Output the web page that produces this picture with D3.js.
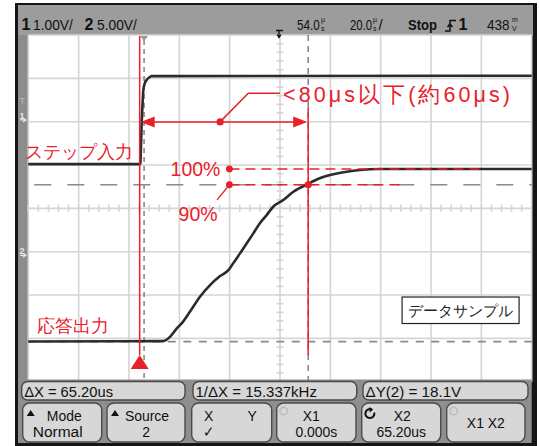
<!DOCTYPE html>
<html>
<head>
<meta charset="utf-8">
<script src="https://cdn.jsdelivr.net/npm/d3@7/dist/d3.min.js"></script>
<style>
  body { margin: 0; background: #fff; }
  svg { display: block; }
  text { font-family: "Liberation Sans", Arial, sans-serif; }
</style>
</head>
<body>
<script>
// ---- Acquisition settings ----
const timePerDiv = 20;          // µs/div
const screenCentre = 54.0;      // µs after trigger
const ch1VoltsPerDiv = 1.0;     // V/div
const ch2VoltsPerDiv = 5.0;     // V/div
const ch1Offset = 2.04;         // ground reference, divisions above centre
const ch2Offset = -1.085;       // ground reference, divisions above centre
const trigLevel = 0.438;        // V on channel 1

// ---- Channel 1: step input (time µs, volts) ----
const stepTime = [-46, -1.5, -1.2, -0.95, -0.6, -0.3, 0.3, 1.0, 2.0, 3.0, 154];
const stepVolt = [-1.02, -1.02, -0.55, -0.07, 0.38, 0.69, 0.85, 0.92, 0.98, 1.01, 1.02];

// ---- Channel 2: response output (time µs, volts) ----
const respTime = [-46, 7.6, 10.3, 13.0, 14.9, 18.2, 22.2, 26.2, 30.2, 33.5, 35.4, 38.1, 40.8,
                  43.4, 46.0, 48.7, 51.3, 55.3, 59.3, 64.8, 69.8, 75.2, 80.5, 85.8, 93.7, 154];
const respVolt = [-9.93, -9.89, -9.40, -8.43, -7.85, -6.51, -4.78, -3.43, -2.39, -1.70, -0.92, 0.23, 1.39,
                  2.54, 3.70, 4.65, 5.61, 6.39, 7.34, 8.20, 8.89, 9.35, 9.65, 9.85, 9.97, 9.97];

// ---- Cursors ----
const cursorX1 = 0.0;           // µs
const cursorX2 = 65.20;         // µs
const cursorY1 = -9.95;         // V (ch2)
const deltaY = 18.1;            // V
const cursorY2 = cursorY1 + deltaY;
const level100 = 9.97;          // V (ch2), settled output

// ---- Readouts ----
const headerLeft = [["1", "1.00V/"], ["2", "5.00V/"]];
const statusTexts = ["ΔX = 65.20us", "1/ΔX = 15.337kHz", "ΔY(2) = 18.1V"];
const softKeys = [["Mode", "Normal"], ["Source", "2"], ["X", "Y", "✓"], ["X1", "0.000s"], ["X2", "65.20us"], ["X1 X2", ""]];

// ---- Annotation anchors (µs on time axis, V on ch2 axis) ----
const markT = -1.75;            // step edge marker
const arrowV = 15.4;
const tipV = -11.5, baseV = -13.1;
const x2LineTopV = 17.1;
const leaderDotT = 30.2, leaderElbow = [41.4, 18.7], leaderEndT = 54.0;
const pctStartT = 33.9, pct100EndT = 134.2, pct90EndT = 101.7;
const pct90Leader = [29.0, 6.4];
const captionT = 102.5;

const W = 539, H = 446;
const plot = { left: 28.3, right: 531.7, top: 35, bottom: 381.7 };

const svg = d3.select("body").append("svg").attr("width", W).attr("height", H);

const x = d3.scaleLinear()
  .domain([screenCentre - 5 * timePerDiv, screenCentre + 5 * timePerDiv])
  .range([plot.left, plot.right]);
const yDiv = d3.scaleLinear().domain([4, -4]).range([plot.top, plot.bottom]);
const y1 = d3.scaleLinear()
  .domain([(-4 - ch1Offset) * ch1VoltsPerDiv, (4 - ch1Offset) * ch1VoltsPerDiv])
  .range([plot.bottom, plot.top]);
const y2 = d3.scaleLinear()
  .domain([(-4 - ch2Offset) * ch2VoltsPerDiv, (4 - ch2Offset) * ch2VoltsPerDiv])
  .range([plot.bottom, plot.top]);

// condensed instrument-style text: natural glyphs squeezed horizontally
function condensed(parent, xp, yp, str, opt = {}) {
  const g = parent.append("g").attr("transform", `translate(${xp},${yp}) scale(${opt.sx || 0.82},1)`);
  return g.append("text").attr("x", 0).attr("y", 0)
    .attr("font-size", opt.size || 15)
    .attr("font-weight", opt.bold ? "bold" : null)
    .attr("text-anchor", opt.anchor || "start")
    .attr("fill", opt.fill || "#111")
    .text(str);
}

// ---- Instrument body ----
svg.append("rect").attr("x", 15).attr("y", 3).attr("width", 522).attr("height", 443).attr("fill", "#151515");
svg.append("rect").attr("x", 18).attr("y", 5).attr("width", 515).attr("height", 31).attr("fill", "#9c9c9c");
svg.append("rect").attr("x", 18).attr("y", 35).attr("width", plot.left - 18).attr("height", 346).attr("fill", "#8c8c8c");
svg.append("rect").attr("x", plot.left).attr("y", plot.top)
  .attr("width", plot.right - plot.left).attr("height", plot.bottom - plot.top).attr("fill", "#fff");

// ---- Graticule ----
const grid = svg.append("g").attr("stroke", "#d5d5d5").attr("stroke-width", 1.6);
const timeGrid = d3.range(0, 11).map(i => x.domain()[0] + i * timePerDiv);
grid.selectAll("line.v").data(timeGrid).join("line")
  .attr("x1", d => x(d)).attr("x2", d => x(d)).attr("y1", plot.top).attr("y2", plot.bottom);
grid.selectAll("line.h").data(d3.range(-4, 5)).join("line")
  .attr("x1", plot.left).attr("x2", plot.right).attr("y1", d => yDiv(d)).attr("y2", d => yDiv(d));

// minor ticks on the centre axes
const minorT = d3.range(x.domain()[0], x.domain()[1], timePerDiv / 5);
grid.selectAll("line.mt").data(minorT).join("line")
  .attr("x1", d => x(d)).attr("x2", d => x(d)).attr("y1", yDiv(0) - 3.5).attr("y2", yDiv(0) + 3.5);
const minorV = d3.range(-4, 4, 0.2);
grid.selectAll("line.mv").data(minorV).join("line")
  .attr("x1", x(screenCentre) - 3.5).attr("x2", x(screenCentre) + 3.5)
  .attr("y1", d => yDiv(d)).attr("y2", d => yDiv(d));

// ---- Cursors (grey dashed) ----
const cur = svg.append("g").attr("stroke", "#8a8a8a").attr("stroke-width", 1.6).attr("fill", "none");
cur.append("line").attr("x1", x(cursorX1)).attr("x2", x(cursorX1)).attr("y1", plot.top + 5).attr("y2", plot.bottom)
  .attr("stroke-dasharray", "5,4");
cur.append("line").attr("x1", x(cursorX2)).attr("x2", x(cursorX2)).attr("y1", plot.top).attr("y2", plot.bottom)
  .attr("stroke-dasharray", "6,5");
cur.append("line").attr("x1", plot.left).attr("x2", plot.right).attr("y1", y2(cursorY1)).attr("y2", y2(cursorY1))
  .attr("stroke-dasharray", "8,7.5");
cur.append("line").attr("x1", plot.left + 6).attr("x2", plot.right).attr("y1", y2(cursorY2)).attr("y2", y2(cursorY2))
  .attr("stroke-dasharray", "17,16");

// trigger point marker at the top of the graticule
svg.append("path")
  .attr("d", `M${x(0) - 4},${plot.top + 1}L${x(0) + 4},${plot.top + 1}L${x(0)},${plot.top + 6}Z`)
  .attr("fill", "#9a9a9a");

// ---- Traces ----
const line1 = d3.line().x(d => x(d[0])).y(d => y1(d[1])).curve(d3.curveMonotoneX);
const line2 = d3.line().x(d => x(d[0])).y(d => y2(d[1])).curve(d3.curveMonotoneX);
svg.append("path").datum(d3.zip(stepTime, stepVolt)).attr("d", line1)
  .attr("fill", "none").attr("stroke", "#2b2b2b").attr("stroke-width", 2.6);
svg.append("path").datum(d3.zip(respTime, respVolt)).attr("d", line2)
  .attr("fill", "none").attr("stroke", "#2b2b2b").attr("stroke-width", 2.6);

// ---- Ground / trigger markers in the left strip ----
const mk = svg.append("g").attr("fill", "#e6e6e6");
function groundMarker(yPos, label) {
  mk.append("text").attr("x", 19.5).attr("y", yPos - 1).attr("font-size", 9).attr("font-weight", "bold").text(label);
  mk.append("path").attr("d", `M20,${yPos}L25,${yPos}M23,${yPos - 2}L26,${yPos}L23,${yPos + 2}`)
    .attr("stroke", "#e6e6e6").attr("stroke-width", 1.2).attr("fill", "none");
}
groundMarker(y1(0), "1");
groundMarker(y2(0), "2");
mk.append("text").attr("x", 19.5).attr("y", y1(trigLevel) + 3).attr("font-size", 9).attr("fill", "#bdbdbd").text("T");

// ---- Red annotations ----
const red = "#e8202a";
const ann = svg.append("g");
ann.append("line").attr("x1", x(markT)).attr("x2", x(markT)).attr("y1", plot.top + 1).attr("y2", y2(tipV))
  .attr("stroke", red).attr("stroke-width", 1.5);
ann.append("path")
  .attr("d", `M${x(markT)},${y2(tipV)}L${x(markT) + 9},${y2(baseV)}L${x(markT) - 9},${y2(baseV)}Z`)
  .attr("fill", red);
ann.append("line").attr("x1", x(cursorX2)).attr("x2", x(cursorX2)).attr("y1", y2(x2LineTopV)).attr("y2", y2(tipV))
  .attr("stroke", red).attr("stroke-width", 1.5);

// double arrow between the two time marks
const ay = y2(arrowV), ax0 = x(markT) + 1, ax1 = x(cursorX2) - 1;
ann.append("line").attr("x1", ax0 + 8).attr("x2", ax1 - 8).attr("y1", ay).attr("y2", ay)
  .attr("stroke", red).attr("stroke-width", 1.5);
ann.append("path").attr("d", `M${ax0},${ay}L${ax0 + 14},${ay - 5.5}L${ax0 + 14},${ay + 5.5}Z`).attr("fill", red);
ann.append("path").attr("d", `M${ax1},${ay}L${ax1 - 14},${ay - 5.5}L${ax1 - 14},${ay + 5.5}Z`).attr("fill", red);

// leader to the rise-time label
ann.append("circle").attr("cx", x(leaderDotT)).attr("cy", ay).attr("r", 3.6).attr("fill", red);
ann.append("polyline")
  .attr("points", [[x(leaderDotT), ay], [x(leaderElbow[0]), y2(leaderElbow[1])], [x(leaderEndT), y2(leaderElbow[1])]].join(" "))
  .attr("fill", "none").attr("stroke", red).attr("stroke-width", 1.5);
ann.append("text").attr("x", x(leaderEndT) + 3).attr("y", y2(leaderElbow[1]) + 8.5)
  .attr("font-family", "'DejaVu Sans', 'Noto Sans CJK JP', sans-serif")
  .attr("font-size", 21.5).attr("fill", red)
  .attr("textLength", 227).attr("lengthAdjust", "spacing")
  .text("<80μs以下(約60μs)");

// 100 % and 90 % levels
ann.append("line").attr("x1", x(pctStartT)).attr("x2", x(pct100EndT)).attr("y1", y2(level100)).attr("y2", y2(level100))
  .attr("stroke", red).attr("stroke-width", 1.5).attr("stroke-dasharray", "10,6");
ann.append("line").attr("x1", x(pctStartT)).attr("x2", x(pct90EndT)).attr("y1", y2(cursorY2)).attr("y2", y2(cursorY2))
  .attr("stroke", red).attr("stroke-width", 1.5).attr("stroke-dasharray", "10,6");
ann.append("circle").attr("cx", x(pctStartT)).attr("cy", y2(level100)).attr("r", 3.4).attr("fill", red);
ann.append("circle").attr("cx", x(pctStartT)).attr("cy", y2(cursorY2)).attr("r", 3.4).attr("fill", red);
ann.append("circle").attr("cx", x(cursorX2)).attr("cy", y2(cursorY2)).attr("r", 3.6).attr("fill", red);
ann.append("line").attr("x1", x(pctStartT)).attr("y1", y2(cursorY2)).attr("x2", x(pct90Leader[0])).attr("y2", y2(pct90Leader[1]))
  .attr("stroke", red).attr("stroke-width", 1.3);
ann.append("text").attr("x", x(pctStartT) - 9).attr("y", y2(level100) + 7.5).attr("text-anchor", "end")
  .attr("font-family", "'DejaVu Sans', sans-serif").attr("font-size", 19.5).attr("fill", red).text("100%");
ann.append("text").attr("x", x(pct90Leader[0]) + 0.5).attr("y", y2(pct90Leader[1]) + 21.5).attr("text-anchor", "end")
  .attr("font-family", "'DejaVu Sans', sans-serif").attr("font-size", 19.5).attr("fill", red).text("90%");

// channel labels
ann.append("text").attr("x", x(markT) - 7).attr("y", y1(-1.02) - 6).attr("text-anchor", "end")
  .attr("font-family", "'Noto Sans CJK JP', sans-serif").attr("font-size", 18).attr("font-weight", 500)
  .attr("fill", red).text("ステップ入力");
ann.append("text").attr("x", plot.left + 9).attr("y", y2(-9.93) - 9.5)
  .attr("font-family", "'Noto Sans CJK JP', sans-serif").attr("font-size", 18).attr("font-weight", 500)
  .attr("fill", red).text("応答出力");

// data sample caption
const cap = svg.append("g").attr("transform", `translate(${x(captionT)},${yDiv(-2) + 2})`);
cap.append("rect").attr("width", 117).attr("height", 26.5).attr("fill", "#fff").attr("stroke", "#222").attr("stroke-width", 1.2);
cap.append("text").attr("x", 58.5).attr("y", 18.5).attr("text-anchor", "middle")
  .attr("font-family", "'Noto Sans CJK JP', sans-serif").attr("font-size", 14.5).attr("fill", "#222").text("データサンプル");

// ---- Header readout ----
const hdr = svg.append("g").attr("fill", "#111");
const hdrX = [[21.5, 33], [84.5, 97]];
headerLeft.forEach((d, i) => {
  hdr.append("text").attr("x", hdrX[i][0]).attr("y", 30).attr("font-weight", "bold").attr("font-size", 16).text(d[0]);
  condensed(hdr, hdrX[i][1], 30, d[1], { sx: 0.92 });
});
function stacked(xp, top, bottom) {
  hdr.append("text").attr("x", xp).attr("y", 22).attr("font-size", 7).text(top);
  hdr.append("text").attr("x", xp).attr("y", 30.5).attr("font-size", 7).text(bottom);
}
// delay icon
hdr.append("path").attr("d", "M276,30.5H283M279,30.5V37M277,34.5L279,37.5L281,34.5")
  .attr("stroke", "#111").attr("stroke-width", 1.3).attr("fill", "none");
condensed(hdr, 297, 30, "54.0", { sx: 0.78 });
stacked(321, "µ", "s");
condensed(hdr, 350, 30, "20.0", { sx: 0.76 });
stacked(373, "µ", "s");
hdr.append("text").attr("x", 378.5).attr("y", 30).attr("font-size", 15).text("/");
condensed(hdr, 408, 30, "Stop", { bold: true, sx: 0.87 });
// rising-edge trigger icon
hdr.append("path").attr("d", "M445,31H450V20.5H456M447.5,27L450,24L452.5,27")
  .attr("stroke", "#111").attr("stroke-width", 1.5).attr("fill", "none");
hdr.append("text").attr("x", 458.5).attr("y", 30).attr("font-weight", "bold").attr("font-size", 16).text("1");
condensed(hdr, 487, 30, "438", { sx: 0.9 });
stacked(512, "m", "V");

// ---- Bottom status line and soft keys ----
svg.append("rect").attr("x", 18).attr("y", 379.5).attr("width", plot.right - 18).attr("height", 63.5).attr("fill", "#8e8e8e");
const boxFill = "#d7d7d7", boxStroke = "#4a4a4a";
const statusBoxes = [[21.7, 185], [193, 356.7], [363, 528]];
const statusScale = [0.95, 0.97, 0.98];
statusBoxes.forEach((b, i) => {
  svg.append("rect").attr("x", b[0]).attr("y", 381.5).attr("width", b[1] - b[0]).attr("height", 18.5).attr("rx", 6)
    .attr("fill", boxFill).attr("stroke", boxStroke).attr("stroke-width", 1.4);
  condensed(svg, b[0] + 2.5, 396.5, statusTexts[i], { sx: statusScale[i], size: 15.5 });
});

const keyBoxes = [[22.7, 101.7], [107, 185], [191.7, 271.7], [276.7, 356], [361.7, 440.7], [446.7, 525]];
keyBoxes.forEach((b, i) => {
  const g = svg.append("g");
  g.append("rect").attr("x", b[0]).attr("y", 403).attr("width", b[1] - b[0]).attr("height", 39).attr("rx", 7)
    .attr("fill", boxFill).attr("stroke", boxStroke).attr("stroke-width", 1.4);
  const cx = (b[0] + b[1]) / 2;
  const lab = softKeys[i];
  const o = { size: 15.5, sx: 0.9, anchor: "middle" };
  if (i === 2) {
    condensed(g, b[0] + 17, 420.5, lab[0], o);
    condensed(g, b[0] + 60.5, 420.5, lab[1], o);
    condensed(g, b[0] + 17, 437, lab[2], o);
  } else if (lab[1] === "") {
    condensed(g, cx, 427.5, lab[0], o);
  } else {
    condensed(g, cx + (i === 0 ? 2 : i === 3 ? -5 : 1), 420.5, lab[0], o);
    condensed(g, cx + (i === 0 ? -4.5 : 0), 437, lab[1], i === 0 ? { ...o, sx: 1.0 } : o);
  }
  if (i < 2) {
    g.append("path").attr("d", `M${b[0] + 4},${416}L${b[0] + 8},${410}L${b[0] + 12},${416}Z`).attr("fill", "#111");
  }
  if (i === 3 || i === 5) {
    g.append("circle").attr("cx", b[0] + 7).attr("cy", 411).attr("r", 3.8)
      .attr("fill", "none").attr("stroke", "#bdbdbd").attr("stroke-width", 1.6);
  }
  if (i === 4) {
    g.append("path").attr("d", `M${b[0] + 10},${409.5}A4.5,4.5 0 1 0 ${b[0] + 12.5},${412.5}`)
      .attr("fill", "none").attr("stroke", "#111").attr("stroke-width", 2);
    g.append("path").attr("d", `M${b[0] + 7.5},${407}L${b[0] + 11.5},${409.5}L${b[0] + 8},${412.5}Z`).attr("fill", "#111");
  }
});
</script>
</body>
</html>
